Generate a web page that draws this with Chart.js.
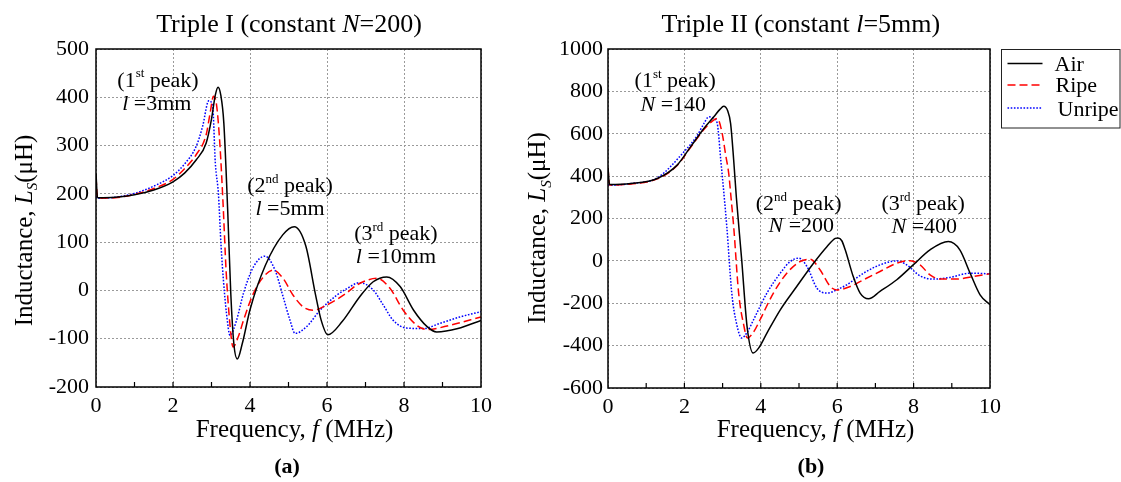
<!DOCTYPE html>
<html><head><meta charset="utf-8">
<script src="https://cdn.jsdelivr.net/npm/chart.js@4.4.1/dist/chart.umd.min.js"></script>
<style>
html,body{margin:0;padding:0;background:#fff;width:1121px;height:482px;overflow:hidden}
#ca{position:absolute;left:0;top:0}
#cb{position:absolute;left:510px;top:0}
</style></head><body>
<canvas id="ca" width="510" height="482"></canvas>
<canvas id="cb" width="611" height="482"></canvas>
<script>
// ---------- Data ----------
const seriesLabels = ['Air', 'Ripe', 'Unripe'];

// Panel (a): Triple I (constant N=200)
const airFreqA  = [0,0.04,0.5,1.0,1.5,2.0,2.3,2.6,2.86,3.0,3.1,3.17,3.24,3.32,3.42,3.5,3.58,3.67,3.8,4.0,4.4,4.85,5.15,5.45,5.7,5.85,6.02,6.4,6.85,7.2,7.55,7.9,8.25,8.6,8.85,9.4,10];
const airLsA    = [242,192,193,198,208,225,243,270,305,355,405,421,405,347,167,-5,-110,-142,-110,-40,52,115,132,92,-8,-62,-92,-64,-13,18,28,8,-41,-75,-86,-79,-62];
const ripeFreqA = [0,0.04,0.5,1.0,1.5,2.0,2.3,2.6,2.86,2.97,3.05,3.13,3.22,3.3,3.38,3.47,3.56,3.7,3.83,4.09,4.35,4.6,4.86,5.12,5.38,5.65,6.0,6.5,6.77,7.3,7.64,7.98,8.33,8.6,9.2,10];
const ripeLsA   = [235,191,192,199,211,230,252,281,322,370,402,385,300,180,40,-62,-117,-95,-62,-6,28,42,25,-10,-34,-41,-30,-6,11,25,4,-41,-72,-81,-72,-55];
const unripeFreqA = [0,0.04,0.5,1.0,1.5,2.0,2.3,2.6,2.77,2.93,3.03,3.1,3.18,3.25,3.31,3.39,3.48,3.65,3.83,4.09,4.39,4.65,4.86,5.04,5.17,5.47,5.82,6.25,6.5,6.85,7.2,7.46,7.72,8.07,8.5,8.94,9.45,10];
const unripeLsA   = [195,191,193,201,216,238,262,298,340,393,381,263,200,90,21,-48,-93,-62,-6,49,71,42,-13,-62,-89,-75,-41,-10,3,16,1,-30,-62,-78,-79,-68,-55,-44];

// Panel (b): Triple II (constant l=5mm)
const airFreqB  = [0,0.04,0.6,1.29,1.81,2.16,2.51,2.77,2.93,3.03,3.13,3.21,3.29,3.36,3.5,3.64,3.8,3.95,4.16,4.51,4.94,5.38,5.73,5.95,6.02,6.12,6.21,6.42,6.6,6.82,7.12,7.56,7.99,8.43,8.91,9.21,9.48,9.74,10];
const airLsB    = [440,360,365,389,452,538,625,680,715,730,710,648,476,300,5,-309,-435,-410,-341,-231,-121,-11,67,106,108,95,52,-74,-152,-179,-144,-89,-19,52,91,52,-58,-160,-207];
const ripeFreqB = [0,0.04,0.6,1.29,1.81,2.16,2.51,2.7,2.86,2.99,3.08,3.16,3.22,3.29,3.42,3.55,3.65,3.83,3.98,4.33,4.68,5.03,5.29,5.55,5.82,5.99,6.34,6.69,7.12,7.56,7.91,8.17,8.43,8.69,9.13,9.56,10];
const ripeLsB   = [440,358,363,387,450,535,620,655,672,601,500,413,300,162,-152,-300,-364,-330,-278,-152,-58,-3,8,-42,-121,-137,-121,-89,-50,-11,1,-19,-66,-86,-86,-74,-61];
const unripeFreqB = [0,0.04,0.6,1.29,1.99,2.34,2.51,2.64,2.77,2.86,2.95,3.05,3.11,3.24,3.37,3.5,3.65,3.81,4.16,4.51,4.77,4.99,5.21,5.47,5.73,6.08,6.25,6.69,7.12,7.56,7.82,8.17,8.52,8.95,9.48,10];
const unripeLsB   = [360,357,365,392,515,593,648,680,672,648,480,287,162,-152,-300,-364,-335,-278,-152,-58,-3,13,-27,-129,-152,-129,-113,-58,-19,0,-19,-71,-86,-78,-58,-61];

// Axis ranges / ticks
const xTicks = [0, 10, 2];          // min, max, step (MHz)
const yTicksA = [-200, 500, 100];   // µH
const yTicksB = [-600, 1000, 200];  // µH

// ---------- Helpers ----------
const SERIF = '"Liberation Serif", "Times New Roman", Times, serif';
Chart.defaults.font.family = SERIF;
Chart.defaults.color = '#000';

const pts = (xs, ys) => xs.map((x, i) => ({x: x, y: ys[i]}));
const styles = [
  {borderColor: '#000000', borderDash: []},
  {borderColor: '#ff0000', borderDash: [8, 4]},
  {borderColor: '#0000ff', borderDash: [1.6, 1.6]}
];
function datasets(freqs, vals) {
  return seriesLabels.map((lab, i) => ({
    label: lab,
    data: pts(freqs[i], vals[i]),
    borderColor: styles[i].borderColor,
    borderDash: styles[i].borderDash,
    borderWidth: 1.5,
    pointRadius: 0,
    fill: false,
    cubicInterpolationMode: 'monotone'
  }));
}

function fnt(s, size) {
  const sz = (s.sup || s.sub) ? Math.round(size * 0.6) : size;
  return (s.it ? 'italic ' : '') + (s.b ? 'bold ' : '') + sz + 'px ' + SERIF;
}
function drawRich(ctx, segs, x, y, size, align) {
  let w = 0;
  for (const s of segs) { ctx.font = fnt(s, size); w += ctx.measureText(s.t).width; }
  let cx = align === 'left' ? x : x - w / 2;
  ctx.textBaseline = 'alphabetic';
  ctx.textAlign = 'left';
  for (const s of segs) {
    ctx.font = fnt(s, size);
    const dy = s.sup ? -size * 0.42 : (s.sub ? size * 0.22 : 0);
    ctx.fillText(s.t, cx, y + dy);
    cx += ctx.measureText(s.t).width;
  }
}

// text plugin: items either in pixel coords (px) or data coords (at)
function makeTextPlugin(items) {
  return {
    id: 'richText',
    afterDraw(chart) {
      const ctx = chart.ctx;
      ctx.save();
      ctx.fillStyle = '#000';
      for (const it of items) {
        let x, y;
        if (it.at) { x = chart.scales.x.getPixelForValue(it.at[0]); y = chart.scales.y.getPixelForValue(it.at[1]); }
        else { x = it.px[0]; y = it.px[1]; }
        if (it.rot) {
          ctx.save(); ctx.translate(x, y); ctx.rotate(-Math.PI / 2);
          drawRich(ctx, it.segs, 0, 0, it.size, 'center');
          ctx.restore();
        } else {
          drawRich(ctx, it.segs, x, y, it.size, 'center');
        }
      }
      ctx.restore();
    }
  };
}

// frame and inward ticks
const framePlugin = {
  id: 'frame',
  afterDatasetsDraw(chart) {
    const {ctx, chartArea: a} = chart;
    ctx.save();
    ctx.strokeStyle = '#000';
    ctx.lineWidth = 1.5;
    ctx.setLineDash([]);
    ctx.strokeRect(a.left, a.top, a.right - a.left, a.bottom - a.top);
    const xs = chart.scales.x;
    ctx.lineWidth = 1.2;
    for (let v = xs.min + 1; v < xs.max; v++) {
      const px = xs.getPixelForValue(v);
      ctx.beginPath(); ctx.moveTo(px, a.bottom); ctx.lineTo(px, a.bottom - 5); ctx.stroke();
    }
    ctx.restore();
  }
};

// boxed legend (drawn from the datasets)
const legendPlugin = {
  id: 'boxLegend',
  afterDraw(chart) {
    const ctx = chart.ctx;
    const a = chart.chartArea;
    const bx = a.right + 11.5, by = 49.5, bw = 118.5, bh = 78.5;
    ctx.save();
    ctx.strokeStyle = '#222';
    ctx.lineWidth = 1;
    ctx.setLineDash([]);
    ctx.strokeRect(bx, by, bw, bh);
    const lineY = [63.5, 85, 108];
    const textY = [71, 92, 116];
    const textX = [53, 54, 56];
    chart.data.datasets.forEach((ds, i) => {
      ctx.strokeStyle = ds.borderColor;
      ctx.lineWidth = ds.borderWidth;
      ctx.setLineDash(ds.borderDash || []);
      ctx.beginPath(); ctx.moveTo(bx + 6, lineY[i]); ctx.lineTo(bx + 41, lineY[i]); ctx.stroke();
      ctx.setLineDash([]);
      ctx.fillStyle = '#000';
      drawRich(ctx, [{t: ds.label}], bx + textX[i], textY[i], 22, 'left');
    });
    ctx.restore();
  }
};

function makeOptions(yT, yWidth, xHeight, padRight, tickPadY) {
  return {
    responsive: false,
    animation: false,
    devicePixelRatio: 1,
    layout: {padding: {top: 49, right: padRight, left: 0, bottom: 0}},
    plugins: {legend: {display: false}, title: {display: false}, tooltip: {enabled: false}},
    scales: {
      x: {
        type: 'linear', min: xTicks[0], max: xTicks[1],
        ticks: {stepSize: xTicks[2], color: '#000', font: {size: 22, family: SERIF}, padding: 6, maxRotation: 0, autoSkip: false,
                callback: v => String(v)},
        grid: {color: '#9a9a9a', lineWidth: 1, drawTicks: false},
        border: {display: false, dash: [2, 2]},
        afterFit(s) { s.height = xHeight; }
      },
      y: {
        type: 'linear', min: yT[0], max: yT[1],
        ticks: {stepSize: yT[2], color: '#000', font: {size: 22, family: SERIF}, padding: tickPadY, autoSkip: false,
                callback: v => String(v)},
        grid: {color: '#9a9a9a', lineWidth: 1, drawTicks: false},
        border: {display: false, dash: [2, 2]},
        afterFit(s) { s.width = yWidth; }
      }
    }
  };
}

const peak = (n, sup) => [{t: '(' + n}, {t: sup, sup: 1}, {t: ' peak)'}];

const itemsA = [
  {px: [289, 32], size: 26, segs: [{t: 'Triple I (constant '}, {t: 'N', it: 1}, {t: '=200)'}]},
  {px: [294.5, 437], size: 25, segs: [{t: 'Frequency, '}, {t: 'f', it: 1}, {t: ' (MHz)'}]},
  {px: [287, 473], size: 22, segs: [{t: '(a)', b: 1}]},
  {px: [31.5, 230.5], rot: true, size: 25, segs: [{t: 'Inductance, '}, {t: 'L', it: 1}, {t: 'S', it: 1, sub: 1}, {t: '(μH)'}]},
  {at: [1.61, 422], size: 22, segs: peak(1, 'st')},
  {at: [1.58, 374], size: 22, segs: [{t: 'l', it: 1}, {t: ' =3mm'}]},
  {at: [5.04, 204], size: 22, segs: peak(2, 'nd')},
  {at: [5.04, 156], size: 22, segs: [{t: 'l', it: 1}, {t: ' =5mm'}]},
  {at: [7.79, 104], size: 22, segs: peak(3, 'rd')},
  {at: [7.79, 57], size: 22, segs: [{t: 'l', it: 1}, {t: ' =10mm'}]}
];
const itemsB = [
  {px: [290.8, 32], size: 26, segs: [{t: 'Triple II (constant '}, {t: 'l', it: 1}, {t: '=5mm)'}]},
  {px: [305.5, 437], size: 25, segs: [{t: 'Frequency, '}, {t: 'f', it: 1}, {t: ' (MHz)'}]},
  {px: [301, 473], size: 22, segs: [{t: '(b)', b: 1}]},
  {px: [35, 228], rot: true, size: 25, segs: [{t: 'Inductance, '}, {t: 'L', it: 1}, {t: 'S', it: 1, sub: 1}, {t: '(μH)'}]},
  {at: [1.76, 820], size: 22, segs: peak(1, 'st')},
  {at: [1.71, 707], size: 22, segs: [{t: 'N', it: 1}, {t: ' =140'}]},
  {at: [4.99, 240], size: 22, segs: peak(2, 'nd')},
  {at: [5.06, 137], size: 22, segs: [{t: 'N', it: 1}, {t: ' =200'}]},
  {at: [8.25, 240], size: 22, segs: peak(3, 'rd')},
  {at: [8.28, 132], size: 22, segs: [{t: 'N', it: 1}, {t: ' =400'}]}
];

new Chart(document.getElementById('ca'), {
  type: 'line',
  data: {datasets: datasets([airFreqA, ripeFreqA, unripeFreqA], [airLsA, ripeLsA, unripeLsA])},
  options: makeOptions(yTicksA, 96, 95, 29, 7),
  plugins: [framePlugin, makeTextPlugin(itemsA)]
});
new Chart(document.getElementById('cb'), {
  type: 'line',
  data: {datasets: datasets([airFreqB, ripeFreqB, unripeFreqB], [airLsB, ripeLsB, unripeLsB])},
  options: makeOptions(yTicksB, 98, 94, 131, 5),
  plugins: [framePlugin, makeTextPlugin(itemsB), legendPlugin]
});
</script>
</body></html>
